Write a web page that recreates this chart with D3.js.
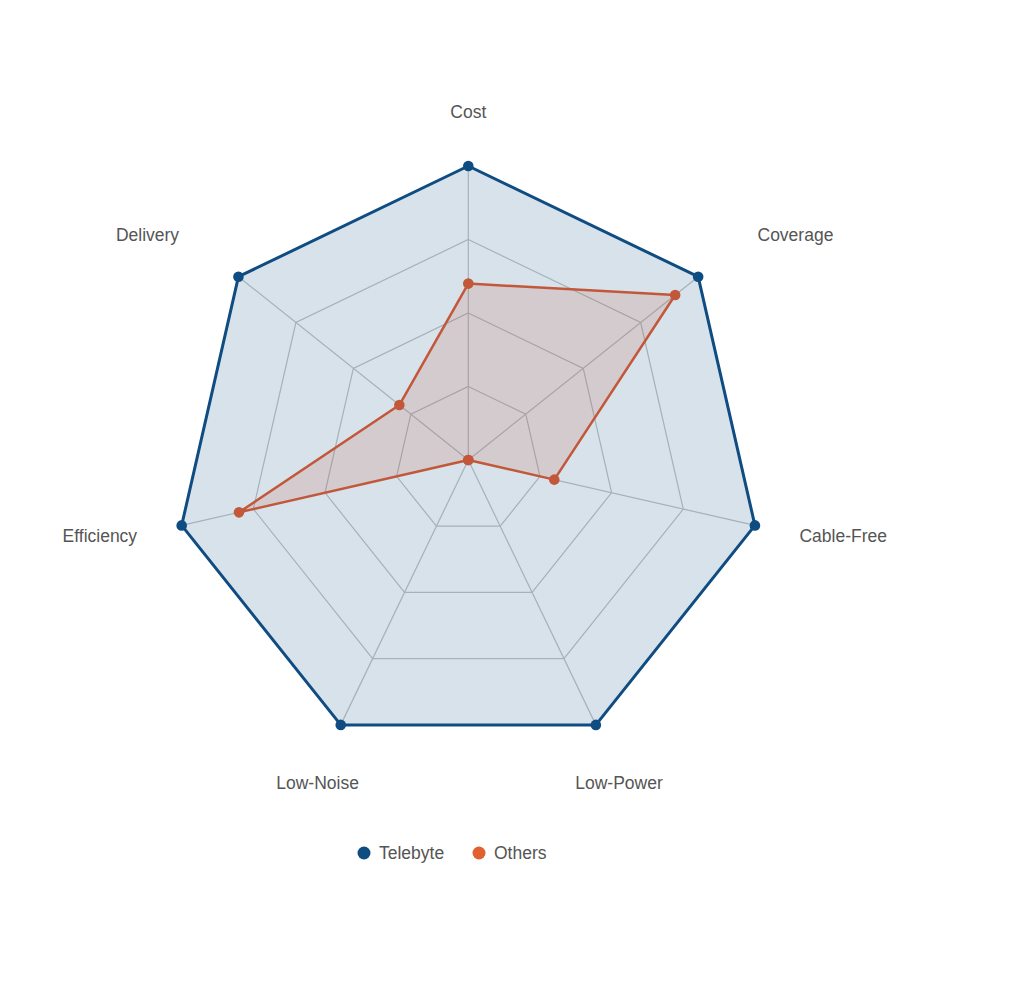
<!DOCTYPE html>
<html>
<head>
<meta charset="utf-8">
<script src="https://cdn.jsdelivr.net/npm/d3@7"></script>
<style>
  body { margin: 0; background: #fff; }
  text { font-family: "Liberation Sans", Arial, sans-serif; fill: #555; }
</style>
</head>
<body>
<div id="canevas"></div>
<script>
////////////////////////////////////////////////////////////////////////////////
//                                 données                                    //
////////////////////////////////////////////////////////////////////////////////

let axes = ["Cost", "Coverage", "Cable-Free", "Low-Power", "Low-Noise", "Efficiency", "Delivery"];
let telebyte = [1, 1, 1, 1, 1, 1, 1];
let others = [0.6, 0.9, 0.3, 0, 0, 0.8, 0.3];
let series = ["Telebyte", "Others"];
let niveaux = [0.25, 0.5, 0.75, 1];

////////////////////////////////////////////////////////////////////////////////
//                                 canevas                                    //
////////////////////////////////////////////////////////////////////////////////

let largeur = 1024;
let hauteur = 987;
let cx = 468.3, cy = 460;
let rayon = 294;

let couleurs = { Telebyte: "#0f4c81", Others: "#c2573a" };
let couleursLegende = { Telebyte: "#0f4c81", Others: "#e0602f" };

let canevas = d3.select("#canevas")
  .append("svg")
  .attr("width", largeur)
  .attr("height", hauteur);

let g = canevas.append("g").attr("transform", `translate(${cx},${cy})`);

// echelles
let echelleR = d3.scaleLinear().domain([0, 1]).range([0, rayon]);
let echelleA = d3.scalePoint().domain(axes).range([0, 2 * Math.PI * (axes.length - 1) / axes.length]);

function point(axe, v) {
  let a = echelleA(axe);
  return [echelleR(v) * Math.sin(a), -echelleR(v) * Math.cos(a)];
}

let ligne = d3.line().curve(d3.curveLinearClosed);

// grille
g.selectAll(".niveau")
  .data(niveaux)
  .enter()
  .append("path")
    .attr("d", n => ligne(axes.map(a => point(a, n))))
    .attr("fill", "none")
    .attr("stroke", "#c2c6c6")
    .attr("stroke-width", 1.2);

g.selectAll(".rayon")
  .data(axes)
  .enter()
  .append("line")
    .attr("x1", 0).attr("y1", 0)
    .attr("x2", a => point(a, 1)[0])
    .attr("y2", a => point(a, 1)[1])
    .attr("stroke", "#c2c6c6")
    .attr("stroke-width", 1.2);

// séries
let donnees = [
  { nom: "Telebyte", valeurs: telebyte },
  { nom: "Others", valeurs: others }
];

donnees.forEach(s => {
  let pts = axes.map((a, i) => point(a, s.valeurs[i]));
  g.append("path")
    .attr("d", ligne(pts))
    .attr("fill", couleurs[s.nom])
    .attr("fill-opacity", 0.16)
    .attr("stroke", couleurs[s.nom])
    .attr("stroke-width", s.nom == "Telebyte" ? 3 : 2.5)
    .attr("stroke-linejoin", "round");
  g.selectAll(".pt-" + s.nom)
    .data(pts)
    .enter()
    .append("circle")
      .attr("cx", d => d[0])
      .attr("cy", d => d[1])
      .attr("r", 5.3)
      .attr("fill", couleurs[s.nom]);
});

// étiquettes des axes
let rayonEtiquette = 352;
let decalage = [[0, 4], [14, -6], [-12, -2], [-2, 6], [2, 6], [12, -2], [-14, -6]];

g.selectAll(".etiquette")
  .data(axes)
  .enter()
  .append("text")
    .attr("x", (a, i) => rayonEtiquette * Math.sin(echelleA(a)) + decalage[i][0])
    .attr("y", (a, i) => -rayonEtiquette * Math.cos(echelleA(a)) + decalage[i][1])
    .attr("dy", "0.35em")
    .attr("text-anchor", a => {
      let s = Math.sin(echelleA(a));
      if (Math.abs(s) < 0.5) return "middle";
      return s > 0 ? "start" : "end";
    })
    .style("font-size", "17.5px")
    .text(a => a);

////////////////////////////////////////////////////////////////////////////////
//                                 légende                                    //
////////////////////////////////////////////////////////////////////////////////

let legende = canevas.append("g").attr("transform", "translate(364,853)");
let item = legende.selectAll(".item")
  .data(series)
  .enter()
  .append("g")
    .attr("transform", (d, i) => `translate(${i * 115},0)`);

item.append("circle")
  .attr("r", 6.5)
  .attr("fill", d => couleursLegende[d]);

item.append("text")
  .attr("x", 15)
  .attr("dy", "0.35em")
  .style("font-size", "17.5px")
  .text(d => d);
</script>
</body>
</html>
